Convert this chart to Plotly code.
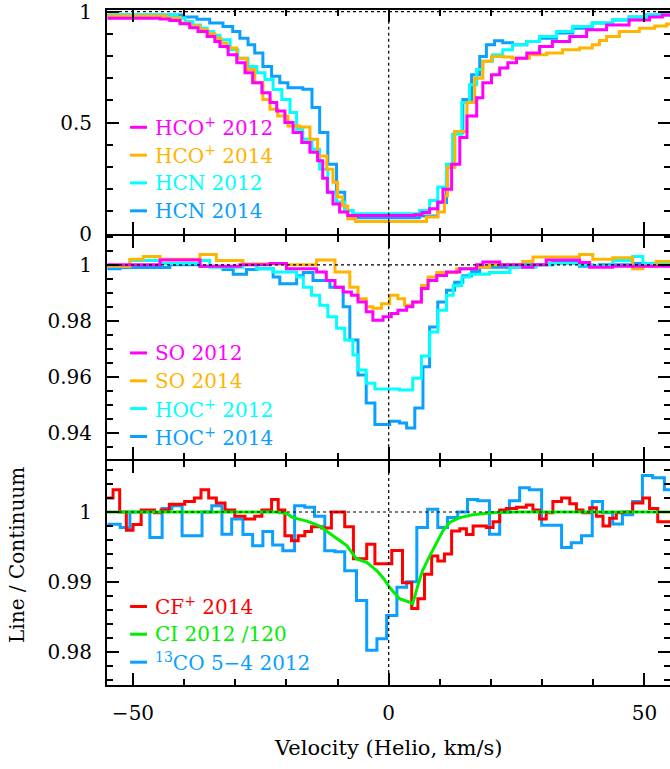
import plotly.graph_objects as go
from plotly.subplots import make_subplots

# ---------------- data (velocity of step start, value) ----------------
# Panel 1
hco_2012_v = [-55, -44.7, -42.8, -40.8, -38.9, -37.3, -35.5, -34.0, -33.0, -31.4, -29.7, -28.1, -26.6, -24.8, -23.2, -21.9, -20.3, -18.7, -17.0, -15.4, -13.9, -12.9, -12.0, -10.9, -9.6, -8.0, 5.0, 6.5, 8.0, 9.6, 10.6, 12.3, 13.9, 15.3, 17.2, 18.4, 20.1, 21.7, 23.3, 25.0, 27.0, 29.5, 32.0, 35.4, 38.7, 42.6, 47.0, 51.0, 53.5]
hco_2012_y = [0.970, 0.966, 0.960, 0.945, 0.927, 0.910, 0.888, 0.865, 0.843, 0.806, 0.769, 0.724, 0.679, 0.634, 0.590, 0.552, 0.500, 0.456, 0.410, 0.367, 0.328, 0.250, 0.187, 0.134, 0.098, 0.082, 0.085, 0.095, 0.112, 0.143, 0.200, 0.313, 0.433, 0.530, 0.612, 0.680, 0.716, 0.746, 0.770, 0.790, 0.813, 0.843, 0.865, 0.888, 0.918, 0.940, 0.962, 0.975, 0.985]

hco_2014_v = [-55, -43.4, -40.8, -38.8, -36.9, -35.4, -34.0, -32.8, -31.6, -29.7, -27.7, -26.2, -24.6, -23.2, -21.7, -19.7, -17.4, -15.4, -13.9, -12.1, -10.9, -10.0, -9.0, -8.0, -6.5, 7.4, 9.6, 10.9, 11.5, 12.9, 15.3, 16.8, 18.4, 20.1, 22.5, 24.2, 27.5, 30.9, 34.0, 37.3, 39.8, 41.2, 42.6, 45.1, 49.0, 52.0, 54.3]
hco_2014_y = [0.980, 0.970, 0.948, 0.935, 0.918, 0.900, 0.880, 0.858, 0.836, 0.790, 0.739, 0.680, 0.604, 0.560, 0.530, 0.485, 0.480, 0.425, 0.350, 0.290, 0.232, 0.165, 0.125, 0.067, 0.055, 0.075, 0.097, 0.171, 0.300, 0.460, 0.590, 0.700, 0.776, 0.798, 0.795, 0.790, 0.806, 0.813, 0.828, 0.836, 0.850, 0.870, 0.888, 0.910, 0.925, 0.935, 0.944]

hcn_2012_v = [-55, -41.4, -39.8, -38.3, -36.8, -35.5, -34.2, -33.0, -31.0, -29.5, -27.5, -25.8, -24.2, -22.6, -20.9, -19.3, -18.0, -16.8, -15.0, -13.5, -11.9, -10.2, -8.6, -7.0, 6.0, 8.0, 9.6, 11.3, 12.5, 14.3, 15.8, 17.2, 18.4, 20.3, 22.3, 24.2, 27.0, 29.5, 32.8, 36.0, 39.8, 43.8, 47.0, 50.4, 53.0]
hcn_2012_y = [0.985, 0.970, 0.955, 0.940, 0.925, 0.910, 0.893, 0.873, 0.828, 0.790, 0.753, 0.724, 0.694, 0.649, 0.604, 0.545, 0.470, 0.425, 0.380, 0.290, 0.187, 0.143, 0.104, 0.090, 0.104, 0.149, 0.210, 0.313, 0.448, 0.590, 0.670, 0.739, 0.776, 0.806, 0.828, 0.850, 0.865, 0.888, 0.910, 0.933, 0.948, 0.962, 0.975, 0.985, 0.990]

hcn_2014_v = [-55, -40.2, -37.5, -35.0, -32.4, -30.5, -29.1, -27.5, -26.2, -24.6, -22.9, -21.3, -19.7, -16.8, -15.0, -13.5, -11.9, -10.2, -8.6, -7.0, 6.0, 9.6, 11.3, 12.9, 14.5, 16.2, 17.8, 19.1, 20.7, 22.3, 24.2, 27.0, 29.5, 32.8, 36.0, 39.8, 43.8, 47.0, 50.4]
hcn_2014_y = [0.985, 0.975, 0.965, 0.948, 0.933, 0.910, 0.880, 0.850, 0.813, 0.753, 0.709, 0.679, 0.657, 0.650, 0.568, 0.456, 0.313, 0.187, 0.104, 0.072, 0.080, 0.140, 0.300, 0.456, 0.604, 0.716, 0.798, 0.850, 0.868, 0.860, 0.850, 0.865, 0.880, 0.903, 0.925, 0.948, 0.962, 0.975, 0.985]

# Panel 2
so_2012_v = [-55, -44.7, -36.9, -29.1, -23.2, -20.0, -14.1, -12.2, -10.5, -8.9, -7.3, -6.0, -4.4, -3.1, -1.1, 0.5, 1.8, 3.5, 4.7, 6.4, 7.7, 9.4, 11.3, 13.9, 17.2, 18.4, 21.7, 26.2, 28.2, 30.8, 37.3, 39.3, 43.8]
so_2012_y = [1.0, 1.0017, 0.9995, 1.0, 1.0005, 0.9986, 0.9974, 0.9944, 0.992, 0.9903, 0.9891, 0.9867, 0.9832, 0.9802, 0.9814, 0.9826, 0.9838, 0.985, 0.9867, 0.9915, 0.9944, 0.9962, 0.9974, 0.9986, 1.0, 1.001, 1.0, 0.9991, 1.0, 1.0017, 1.0008, 0.9991, 0.9995]

so_2014_v = [-55, -50.6, -48.0, -44.7, -36.9, -33.7, -28.5, -20.0, -14.1, -10.5, -7.6, -6.0, -4.4, -3.1, -1.4, 0.2, 1.8, 3.1, 4.7, 6.4, 7.7, 9.4, 13.3, 17.2, 19.7, 26.2, 28.2, 37.3, 39.9, 43.8, 47.7, 49.7, 52.3]
so_2014_y = [0.9995, 1.002, 1.003, 1.002, 1.0037, 1.0015, 1.0003, 1.0, 1.0017, 0.9974, 0.992, 0.9879, 0.985, 0.9845, 0.9861, 0.9891, 0.9879, 0.9855, 0.9867, 0.9926, 0.9956, 0.9972, 0.9986, 0.9991, 1.0, 1.0012, 1.0028, 1.0037, 1.002, 1.0025, 0.9986, 0.9995, 1.0012]

hoc_2012_v = [-55, -50.6, -44.7, -36.9, -35.0, -28.5, -25.8, -22.6, -18.0, -16.7, -15.1, -13.5, -11.9, -10.2, -8.6, -7.0, -6.0, -4.4, -2.7, 2.1, 4.7, 6.4, 8.0, 9.6, 11.3, 12.6, 14.3, 15.8, 19.7, 23.7, 28.8, 31.4, 37.3, 39.9, 43.8, 47.7, 49.7]
hoc_2012_y = [0.9995, 1.0015, 1.0005, 1.0015, 0.9991, 1.0, 0.9986, 0.9974, 0.9956, 0.992, 0.9891, 0.9855, 0.9814, 0.9773, 0.9731, 0.9678, 0.9624, 0.9577, 0.9556, 0.9553, 0.9595, 0.9674, 0.976, 0.9838, 0.9891, 0.9926, 0.9956, 0.9966, 0.9972, 0.9991, 1.0, 1.0005, 1.0, 0.9995, 1.0015, 1.003, 1.0005]

hoc_2014_v = [-55, -52.5, -42.8, -36.9, -32.4, -30.4, -27.8, -25.8, -22.6, -21.3, -18.0, -16.7, -14.8, -11.5, -8.9, -7.6, -6.0, -4.4, -2.7, 0.2, 2.1, 3.5, 5.1, 6.7, 8.0, 9.6, 11.3, 12.9, 14.5, 16.2, 17.8, 25.6, 32.1, 37.3, 41.2, 47.7]
hoc_2014_y = [0.9986, 0.999, 1.0, 0.9995, 0.9983, 0.9966, 0.9983, 0.9986, 0.9956, 0.9932, 0.9961, 0.9972, 0.9944, 0.992, 0.985, 0.9731, 0.9606, 0.9506, 0.9429, 0.9441, 0.9435, 0.9417, 0.9488, 0.9636, 0.9778, 0.9867, 0.9909, 0.9938, 0.9961, 0.9976, 0.9991, 1.0, 1.0008, 0.9995, 1.0, 1.0005]

# Panel 3
cf_2014_v = [-55, -53.9, -52.6, -51.3, -50.0, -48.4, -45.8, -44.5, -42.9, -39.9, -38.0, -36.7, -35.2, -33.7, -32.0, -30.1, -28.1, -26.2, -24.8, -22.9, -21.6, -20.3, -19.0, -17.7, -16.4, -15.1, -13.1, -11.2, -8.6, -6.9, -4.3, -2.7, -0.4, 0.6, 2.7, 4.5, 5.7, 7.0, 8.4, 9.6, 10.9, 12.3, 13.9, 15.2, 16.5, 19.1, 20.4, 21.7, 23.0, 25.0, 26.9, 28.2, 29.5, 30.8, 32.1, 33.8, 35.4, 36.7, 38.0, 39.3, 40.6, 41.9, 43.2, 44.5, 45.8, 47.7, 49.7, 51.0, 52.6]
cf_2014_y = [1.002, 1.0032, 1.0, 0.9974, 0.9982, 1.0003, 0.9999, 1.0003, 1.0011, 1.0015, 1.002, 1.0032, 1.002, 1.0013, 1.0003, 0.9994, 0.999, 0.9994, 1.0003, 1.0018, 1.0003, 0.9966, 0.9959, 0.9966, 0.9972, 0.9979, 0.9977, 1.0, 0.9979, 0.9933, 0.9954, 0.9926, 0.9926, 0.9945, 0.9899, 0.9862, 0.9876, 0.9911, 0.9937, 0.993, 0.994, 0.9973, 0.9976, 0.9968, 0.998, 0.9978, 0.9986, 1.0003, 1.0005, 1.0007, 1.001, 1.0003, 0.999, 0.9999, 1.0015, 1.002, 1.0012, 1.0003, 0.9999, 1.0006, 0.9994, 0.998, 0.9991, 0.9999, 1.0, 1.0013, 1.002, 1.0005, 0.9986]

ci_2012_v = [-55, -22.0, -20.0, -18.7, -16.0, -13.5, -10.9, -8.2, -6.3, -4.3, -2.3, -1.0, 0.2, 2.1, 4.1, 4.7, 5.7, 6.6, 8.0, 9.4, 10.6, 11.9, 13.9, 16.4, 20.3, 25.0, 55]
ci_2012_y = [1.0, 1.0, 0.9998, 0.9992, 0.9987, 0.998, 0.9966, 0.9952, 0.9933, 0.9928, 0.9916, 0.9905, 0.9892, 0.9876, 0.9871, 0.9869, 0.9895, 0.9916, 0.9937, 0.9956, 0.9973, 0.9985, 0.9992, 0.9996, 0.9999, 1.0, 1.0]

co13_v = [-55, -52.5, -50.6, -48.6, -46.7, -44.3, -42.4, -40.4, -38.5, -36.5, -34.6, -32.6, -30.7, -28.5, -26.6, -24.6, -22.7, -20.7, -18.4, -16.4, -14.5, -12.5, -10.5, -8.6, -6.3, -4.3, -2.3, -0.4, 1.6, 3.5, 5.5, 7.6, 9.6, 11.5, 13.5, 15.4, 17.4, 19.7, 21.7, 23.6, 25.6, 27.5, 29.9, 31.8, 33.8, 35.7, 37.7, 39.8, 41.8, 43.8, 45.7, 47.7, 49.6, 51.6, 53.9]
co13_y = [0.99825, 0.9978, 1.0, 1.0, 0.99635, 1.0005, 1.0009, 0.9966, 0.9966, 1.0, 1.0009, 0.99683, 0.999, 0.9968, 0.99516, 0.9972, 0.9953, 0.99445, 1.0009, 1.0007, 0.9994, 0.99445, 0.9943, 0.99161, 0.98734, 0.98023, 0.98189, 0.9852, 0.98923, 0.99004, 0.99777, 1.0004, 0.9978, 0.9992, 1.0, 1.0018, 1.0016, 0.99683, 1.0, 1.0016, 1.00346, 1.0032, 0.9981, 0.9981, 0.99492, 0.9956, 0.9966, 1.0015, 0.9999, 0.9983, 0.9996, 1.0015, 1.00522, 1.0049, 1.0032]

X_END = 55.5

MAGENTA = "#FF00FF"
ORANGE = "#FFB400"
CYAN = "#00FFFF"
BLUE = "#0AA0FF"
RED = "#FF0000"
GREEN = "#00EE00"

FONT = "DejaVu Serif"

fig = make_subplots(rows=3, cols=1, shared_xaxes=True, vertical_spacing=2 / 675)


def step(v, y, color, row, shape="hv"):
    xs = list(v) + [X_END]
    ys = list(y) + [y[-1]]
    fig.add_trace(go.Scatter(x=xs, y=ys, mode="lines", line=dict(color=color, width=3, shape=shape),
                             showlegend=False, hoverinfo="skip"), row=row, col=1)


step(hcn_2014_v, hcn_2014_y, BLUE, 1)
step(hcn_2012_v, hcn_2012_y, CYAN, 1)
step(hco_2014_v, hco_2014_y, ORANGE, 1)
step(hco_2012_v, hco_2012_y, MAGENTA, 1)

step(hoc_2014_v, hoc_2014_y, BLUE, 2)
step(hoc_2012_v, hoc_2012_y, CYAN, 2)
step(so_2014_v, so_2014_y, ORANGE, 2)
step(so_2012_v, so_2012_y, MAGENTA, 2)

step(co13_v, co13_y, BLUE, 3)
step(cf_2014_v, cf_2014_y, RED, 3)
fig.add_trace(go.Scatter(x=ci_2012_v, y=ci_2012_y, mode="lines", line=dict(color=GREEN, width=3),
                         showlegend=False, hoverinfo="skip"), row=3, col=1)

axis_common = dict(showline=True, linecolor="black", linewidth=2, mirror="allticks",
                   ticks="inside", tickcolor="black", tickwidth=1.5, showgrid=False,
                   zeroline=False, automargin=False, ticklabeloverflow="allow",
                   tickfont=dict(family=FONT, size=20, color="black"))

xr = [-55.08, 55.0]
for i in (1, 2, 3):
    fig.update_xaxes(range=xr, tickvals=[-50, 0, 50], ticklen=12,
                     minor=dict(dtick=10, tick0=0, ticklen=6, ticks="inside", tickcolor="black", tickwidth=1.5),
                     showticklabels=(i == 3), ticklabelstandoff=9, **axis_common, row=i, col=1)

fig.update_yaxes(range=[0, 1.007], tickvals=[0, 0.5, 1], ticktext=["0", "0.5", "1"], ticklen=12,
                 minor=dict(dtick=0.1, tick0=0, ticklen=6, ticks="inside", tickcolor="black", tickwidth=1.5),
                 ticklabelstandoff=9, **axis_common, row=1, col=1)
fig.update_yaxes(range=[0.9305, 1.0104], tickvals=[0.94, 0.96, 0.98, 1], ticktext=["0.94", "0.96", "0.98", "1"], ticklen=12,
                 minor=dict(dtick=0.005, tick0=0.94, ticklen=6, ticks="inside", tickcolor="black", tickwidth=1.5),
                 ticklabelstandoff=9, **axis_common, row=2, col=1)
fig.update_yaxes(range=[0.97526, 1.00725], tickvals=[0.98, 0.99, 1], ticktext=["0.98", "0.99", "1"], ticklen=12,
                 minor=dict(dtick=0.002, tick0=0.98, ticklen=6, ticks="inside", tickcolor="black", tickwidth=1.5),
                 ticklabelstandoff=9, **axis_common, row=3, col=1)

shapes = []
annotations = []
for yname, xname in (("y", "x"), ("y2", "x2"), ("y3", "x3")):
    shapes.append(dict(type="line", xref=xname + " domain", x0=0, x1=1, yref=yname, y0=1, y1=1,
                       line=dict(color="black", width=1.2, dash="dot"), layer="above"))
    shapes.append(dict(type="line", xref=xname, x0=0, x1=0, yref=yname + " domain", y0=0, y1=1,
                       line=dict(color="black", width=1.2, dash="dot"), layer="above"))

legends = [
    ("x", "y", [("HCO<sup>+</sup> 2012", MAGENTA), ("HCO<sup>+</sup> 2014", ORANGE),
                ("HCN 2012", CYAN), ("HCN 2014", BLUE)], [0.4756, 0.351, 0.227, 0.102]),
    ("x2", "y2", [("SO 2012", MAGENTA), ("SO 2014", ORANGE),
                  ("HOC<sup>+</sup> 2012", CYAN), ("HOC<sup>+</sup> 2014", BLUE)], [0.4756, 0.351, 0.227, 0.102]),
    ("x3", "y3", [("CF<sup>+</sup> 2014", RED), ("CI 2012 /120", GREEN),
                  ("<sup>13</sup>CO 5\u22124 2012", BLUE)], [0.351, 0.227, 0.102]),
]
for xname, yname, items, ys in legends:
    for (label, color), yy in zip(items, ys):
        shapes.append(dict(type="line", xref=xname + " domain", yref=yname + " domain",
                           x0=0.041, x1=0.071, y0=yy, y1=yy, line=dict(color=color, width=3)))
        annotations.append(dict(xref=xname + " domain", yref=yname + " domain", x=0.0817, y=yy,
                                xanchor="left", yanchor="middle", text=label, showarrow=False,
                                font=dict(family=FONT, size=20, color=color)))

annotations.append(dict(xref="paper", yref="paper", x=-0.16, y=0.1926, text="Line / Continuum",
                        textangle=-90, showarrow=False, xanchor="center", yanchor="middle",
                        font=dict(family=FONT, size=20, color="black")))
annotations.append(dict(xref="paper", yref="paper", x=0.5, y=-0.0933, text="Velocity (Helio, km/s)",
                        showarrow=False, xanchor="center", yanchor="middle",
                        font=dict(family=FONT, size=21, color="black")))

fig.update_layout(width=670, height=769, margin=dict(l=107, r=0, t=10, b=84),
                  paper_bgcolor="white", plot_bgcolor="white", shapes=shapes, annotations=annotations,
                  showlegend=False)

fig.write_html("out.html", config={"displayModeBar": False},
               post_script="document.body.style.margin='0';document.body.style.overflow='hidden';")
